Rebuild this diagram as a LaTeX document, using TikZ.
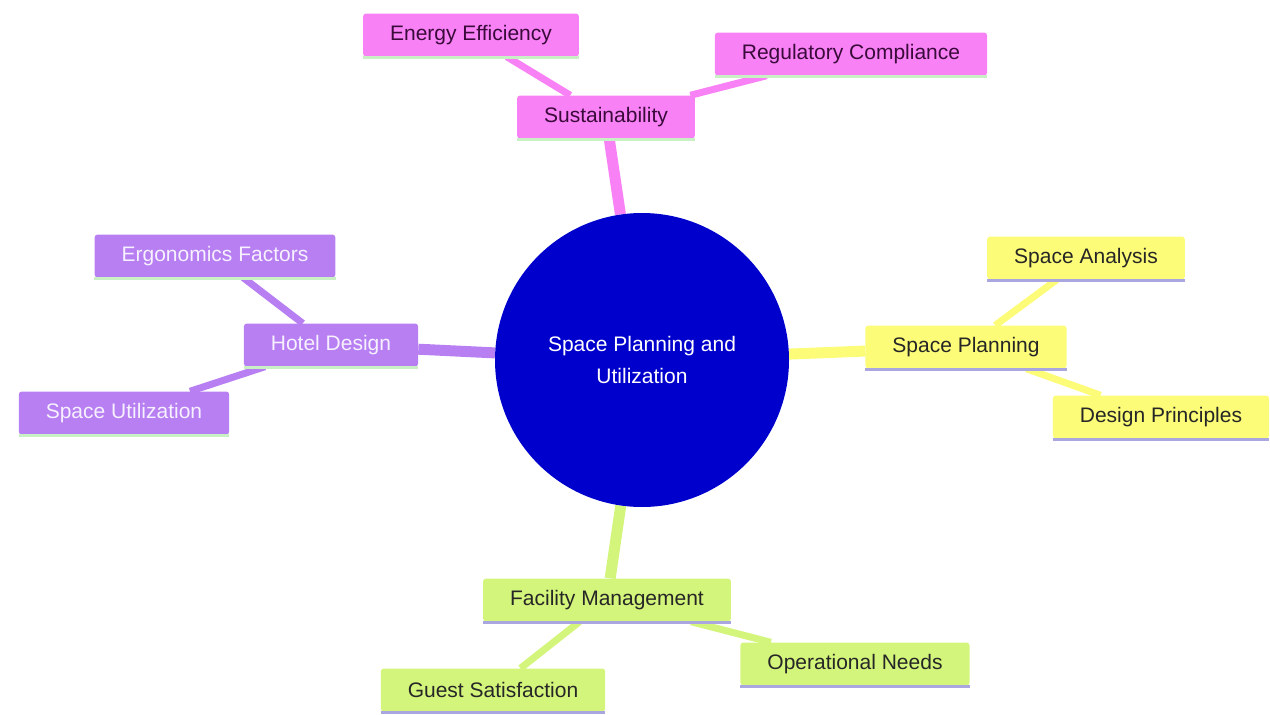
\documentclass[tikz,border=0pt]{standalone}
\usepackage{fontspec}
\setmainfont{Liberation Sans}
\usetikzlibrary{backgrounds}
\definecolor{pinkfill}{HTML}{F882F5}
\definecolor{pinktext}{HTML}{3A0A3A}
\definecolor{lilacfill}{HTML}{B77FF2}
\definecolor{lilactext}{HTML}{F6F0FF}
\definecolor{yellowfill}{HTML}{FCFC78}
\definecolor{limefill}{HTML}{D4F57C}
\definecolor{rootblue}{HTML}{0000CC}
\definecolor{greenline}{HTML}{C9F0C4}
\definecolor{blueline}{HTML}{A9A6E0}
\tikzset{
  box/.style={rounded corners=3pt, minimum height=43pt, inner xsep=27pt,
    font=\fontsize{21}{25}\selectfont},
  pinkbox/.style={box, fill=pinkfill, text=pinktext},
  lilacbox/.style={box, fill=lilacfill, text=lilactext},
  yellowbox/.style={box, fill=yellowfill, text=black!85},
  limebox/.style={box, fill=limefill, text=black!85},
  mainedge/.style={line width=11pt},
  subedge/.style={line width=7pt}
}
\begin{document}
\begin{tikzpicture}[x=1pt,y=-1pt]
  \useasboundingbox (0,0) rectangle (1270,715);
  % root
  \node [circle, fill=rootblue, minimum size=294pt, text=white, align=center,
    font=\fontsize{21}{32}\selectfont] (n0) at (642,360) {Space Planning and\\Utilization};
  % sustainability branch
  \node [pinkbox] (n1) at (606,117) {Sustainability};
  \node [pinkbox] (n2) at (471,35) {Energy Efficiency};
  \node [pinkbox] (n3) at (851,54) {Regulatory Compliance};
  % hotel design branch
  \node [lilacbox] (n4) at (331,345) {Hotel Design};
  \node [lilacbox] (n5) at (215,256) {Ergonomics Factors};
  \node [lilacbox] (n6) at (124,413) {Space Utilization};
  % space planning branch
  \node [yellowbox] (n7) at (966,347) {Space Planning};
  \node [yellowbox] (n8) at (1086,258) {Space Analysis};
  \node [yellowbox] (n9) at (1161,417) {Design Principles};
  % facility management branch
  \node [limebox] (n10) at (607,600) {Facility Management};
  \node [limebox] (n11) at (855,664) {Operational Needs};
  \node [limebox] (n12) at (493,690) {Guest Satisfaction};
  \foreach \n/\c in {n1/greenline, n2/greenline, n3/greenline, n4/greenline,
      n5/greenline, n6/greenline, n7/blueline, n8/blueline, n9/blueline,
      n10/blueline, n11/blueline, n12/blueline}
    \draw [\c, line width=3pt] ([yshift=-1pt]\n.south west) -- ([yshift=-1pt]\n.south east);
  \begin{scope}[on background layer]
    \draw [mainedge, pinkfill] (n0) -- (n1);
    \draw [subedge, pinkfill] (n1) -- (n2);
    \draw [subedge, pinkfill] (n1) -- (n3);
    \draw [mainedge, lilacfill] (n0) -- (n4);
    \draw [subedge, lilacfill] (n4) -- (n5);
    \draw [subedge, lilacfill] (n4) -- (n6);
    \draw [mainedge, yellowfill] (n0) -- (n7);
    \draw [subedge, yellowfill] (n7) -- (n8);
    \draw [subedge, yellowfill] (n7) -- (n9);
    \draw [mainedge, limefill] (n0) -- (n10);
    \draw [subedge, limefill] (n10) -- (n11);
    \draw [subedge, limefill] (n10) -- (n12);
  \end{scope}
\end{tikzpicture}
\end{document}
